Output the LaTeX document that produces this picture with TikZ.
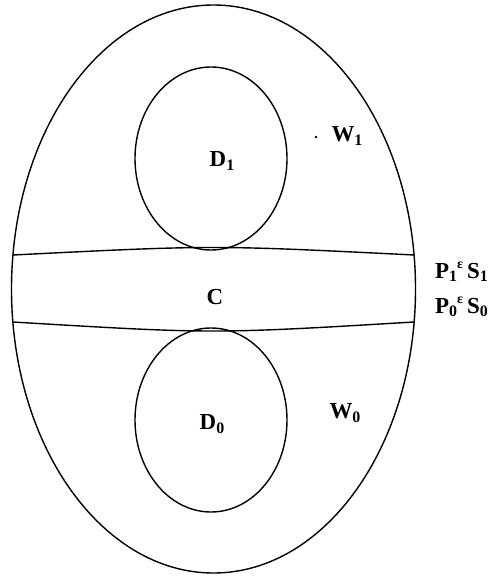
\documentclass[tikz,border=0pt]{standalone}
\usepackage{fontspec}
\setmainfont{Liberation Serif}
\usetikzlibrary{shapes.geometric}
\newcommand{\lowsub}[1]{\raisebox{-0.35ex}{\fontsize{16}{18}\selectfont #1}}
\newcommand{\highsup}[1]{\raisebox{0.9ex}{\fontsize{14}{16}\selectfont #1}}
\begin{document}
\begin{tikzpicture}[x=1bp,y=-1bp,
  region/.style={draw, line width=1.4bp, ellipse, inner sep=0pt},
  bandline/.style={draw, line width=1.4bp},
  lbl/.style={font=\fontsize{23}{25}\selectfont\bfseries, inner sep=0pt}]
\useasboundingbox (0,0) rectangle (503,578);
\node[region, minimum width=404bp, minimum height=568bp] (outer) at (213.5,289) {};
\node[region, minimum width=152bp, minimum height=183bp] (d1) at (211,158.5) {};
\node[region, minimum width=152bp, minimum height=184bp] (d0) at (211,420) {};
\coordinate (tl) at (13,255);
\coordinate (tr) at (414,255);
\coordinate (bl) at (13,322);
\coordinate (br) at (414,322);
\draw[bandline] (tl) .. controls (213,245) .. (tr);
\draw[bandline] (bl) .. controls (213,334) .. (br);
\node[lbl] (D1) at (222,161) {D\lowsub{1}};
\node[lbl] (D0) at (212,424) {D\lowsub{0}};
\node[lbl] (C) at (215,297) {C};
\node[lbl] (W1) at (347,136) {W\lowsub{1}};
\node[lbl] (W0) at (345,413) {W\lowsub{0}};
\fill (316,137) circle (1.3bp);
\node[lbl, anchor=west] (P1) at (435,272) {P\lowsub{1}\highsup{ε}\kern4bp S\lowsub{1}};
\node[lbl, anchor=west] (P0) at (435,307) {P\lowsub{0}\highsup{ε}\kern4bp S\lowsub{0}};
\end{tikzpicture}
\end{document}
